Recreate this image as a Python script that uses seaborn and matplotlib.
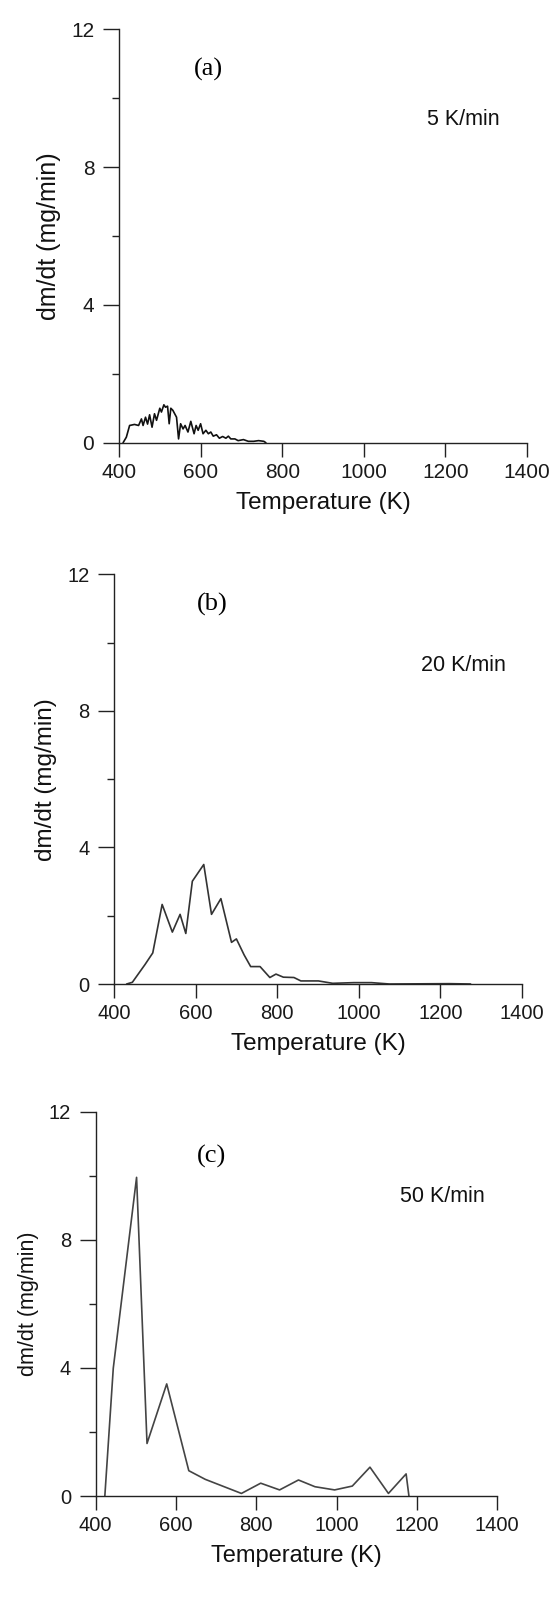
import matplotlib
matplotlib.use("Agg")
import matplotlib.pyplot as plt
import seaborn as sns
from matplotlib.ticker import MultipleLocator

# ---------------- data ----------------
temp_a = [410, 418, 426, 438, 448, 455, 459, 465, 470, 475, 481, 487, 492, 500, 504,
          510, 514, 519, 523, 527, 532, 541, 546, 551, 557, 562, 569, 576, 584, 589,
          594, 600, 606, 613, 619, 625, 631, 639, 646, 654, 662, 668, 674, 684, 692,
          705, 717, 730, 742, 755, 760]
rate_a = [0.0, 0.16, 0.5, 0.53, 0.5, 0.69, 0.5, 0.74, 0.54, 0.81, 0.45, 0.84, 0.65, 1.0, 0.89,
          1.1, 1.03, 1.06, 0.55, 1.0, 0.94, 0.74, 0.11, 0.55, 0.4, 0.5, 0.31, 0.62, 0.26, 0.5,
          0.36, 0.55, 0.26, 0.36, 0.26, 0.31, 0.19, 0.23, 0.13, 0.18, 0.13, 0.19, 0.11, 0.11, 0.06,
          0.09, 0.04, 0.04, 0.06, 0.04, 0.0]

temp_b = [431, 445, 476, 495, 518, 543, 562, 576, 592, 620, 639, 662, 688, 700, 719,
          735, 758, 782, 797, 815, 841, 858, 901, 936, 988, 1031, 1075, 1222, 1274]
rate_b = [0.0, 0.05, 0.57, 0.91, 2.33, 1.52, 2.04, 1.48, 3.01, 3.5, 2.04, 2.5, 1.22, 1.32, 0.85,
          0.51, 0.51, 0.19, 0.29, 0.2, 0.19, 0.09, 0.09, 0.02, 0.04, 0.04, 0.0, 0.01, 0.0]

temp_c = [423, 444, 502, 528, 577, 632, 673, 763, 811, 858, 905, 946, 995, 1039, 1083,
          1129, 1173, 1180]
rate_c = [0.0, 3.99, 9.95, 1.64, 3.5, 0.79, 0.52, 0.08, 0.4, 0.19, 0.5, 0.29, 0.19, 0.31, 0.9,
          0.08, 0.69, 0.0]

panel_tags = ["(a)", "(b)", "(c)"]
rate_labels = ["5 K/min", "20 K/min", "50 K/min"]
x_ticks = [400, 600, 800, 1000, 1200, 1400]
y_ticks = [0, 4, 8, 12]
x_label = "Temperature (K)"
y_label = "dm/dt (mg/min)"

# ---------------- style ----------------
sns.set_style("ticks")
plt.rcParams["font.family"] = ["Liberation Sans", "DejaVu Sans"]

W, H = 555, 1609
fig = plt.figure(figsize=(W / 100, H / 100), dpi=100)

# pixel boxes: left, right, top, bottom
boxes = [(119, 527, 29.3, 442.7), (114, 522, 574.3, 984), (95.6, 497.3, 1111.7, 1496)]
series = [(temp_a, rate_a), (temp_b, rate_b), (temp_c, rate_c)]
line_colors = ["#111111", "#333333", "#444444"]
tag_pos = [(619, 10.82), (641, 11.13), (689, 10.6)]
lab_pos = [(1245, 9.37), (1256, 9.34), (1263, 9.35)]
ylab_size = [18, 17.5, 15.5]
tick_size = [15, 14.5, 14.5]
xlab_size = [17.5, 17.5, 17]

for i, ((l, r, t, b), (xs, ys)) in enumerate(zip(boxes, series)):
    ax = fig.add_axes([l / W, 1 - b / H, (r - l) / W, (b - t) / H])
    sns.lineplot(x=xs, y=ys, ax=ax, color=line_colors[i], lw=1.2, sort=False)
    ax.set_xlim(400, 1400)
    ax.set_ylim(0, 12)
    ax.set_xticks(x_ticks)
    ax.set_yticks(y_ticks)
    ax.yaxis.set_minor_locator(MultipleLocator(2))
    for s in ["top", "right"]:
        ax.spines[s].set_visible(False)
    for s in ["left", "bottom"]:
        ax.spines[s].set_color("#222222")
        ax.spines[s].set_linewidth(1.0)
    ax.tick_params(axis="x", which="major", direction="out", length=9.8, width=1.0,
                   color="#222222", labelsize=tick_size[i], labelcolor="#1a1a1a", pad=4.8)
    ax.tick_params(axis="y", which="major", direction="out", length=11.3, width=1.0,
                   color="#222222", labelsize=tick_size[i], labelcolor="#1a1a1a", pad=6.5)
    ax.tick_params(axis="y", which="minor", direction="out", length=5, width=1.0, color="#222222")
    ax.set_xlabel(x_label, fontsize=xlab_size[i], color="#111111", labelpad=7)
    ax.set_ylabel(y_label, fontsize=ylab_size[i], color="#111111", labelpad=7)
    ax.text(tag_pos[i][0], tag_pos[i][1], panel_tags[i], fontsize=19,
            family=["Liberation Serif", "DejaVu Serif"], ha="center", va="center", color="black")
    ax.text(lab_pos[i][0], lab_pos[i][1], rate_labels[i], fontsize=15.5,
            ha="center", va="center", color="#111111")
    ax.set_facecolor("white")

fig.savefig("out.png", dpi=100, facecolor="white")
